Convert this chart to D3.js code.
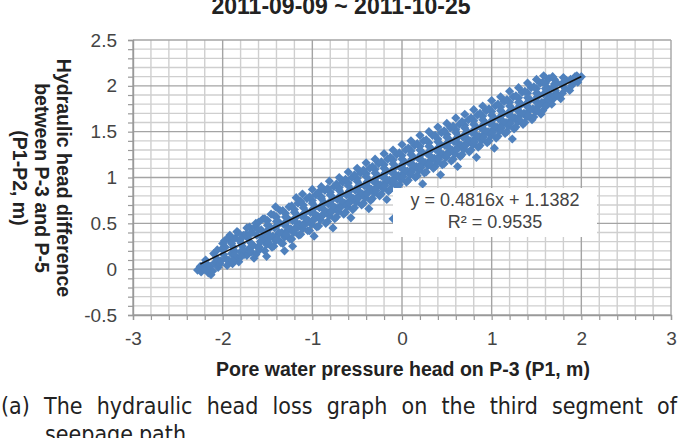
<!DOCTYPE html>
<html>
<head>
<meta charset="utf-8">
<script src="https://cdn.jsdelivr.net/npm/d3@7"></script>
<style>
  body { margin: 0; background: #fff; }
  svg { display: block; }
  .tick text { font-family: "Liberation Sans", Arial, sans-serif; font-size: 19px; fill: #444; }
  .bold { font-family: "Liberation Sans", Arial, sans-serif; font-weight: bold; fill: #222; }
</style>
</head>
<body>
<div class="chart"></div>
<script>
const title = "2011-09-09 ~ 2011-10-25";
const xLabel = "Pore water pressure head on P-3 (P1, m)";
const yLabelLines = ["Hydraulic head difference", "between P-3 and P-5", "(P1-P2, m)"];
const xMajor = [-3, -2, -1, 0, 1, 2, 3];
const yMajor = [-0.5, 0, 0.5, 1, 1.5, 2, 2.5];
const trendSlope = 0.4816, trendIntercept = 1.1382;
const trendRange = [-2.25, 2.0];
const eqLines = ["y = 0.4816x + 1.1382", "R\u00b2 = 0.9535"];
const captionLine1 = "(a) The hydraulic head loss graph on the third segment of";
const captionLine2 = "seepage path";

const points = [
[-2.28,-0.01],[-2.25,0.03],[-2.24,-0.03],[-2.21,0.05],
[-2.2,0.0],[-2.18,0.06],[-2.16,-0.04],[-2.19,0.1],[-2.14,0.03],[-2.13,-0.06],
[-2.11,-0.02],[-2.09,0.07],[-2.07,0.12],[-2.1,0.17],[-2.05,0.02],[-2.06,0.21],[-2.03,0.06],
[-2.02,0.09],[-1.99,0.16],[-1.97,0.24],[-2.0,0.28],[-1.96,0.11],[-2.01,0.22],[-1.98,0.31],[-1.95,0.04],
[-1.93,0.1],[-1.9,0.17],[-1.88,0.24],[-1.91,0.3],[-1.86,0.34],[-1.89,0.06],[-1.87,0.2],[-1.92,0.37],[-1.85,0.13],
[-1.83,0.12],[-1.8,0.19],[-1.78,0.25],[-1.81,0.31],[-1.77,0.37],[-1.84,0.41],[-1.79,0.28],[-1.76,0.16],[-1.82,0.08],
[-1.73,0.15],[-1.71,0.22],[-1.69,0.29],[-1.72,0.34],[-1.67,0.4],[-1.7,0.46],[-1.66,0.26],[-1.74,0.38],[-1.68,0.19],[-1.65,0.12],
[-1.63,0.16],[-1.61,0.24],[-1.58,0.3],[-1.62,0.37],[-1.57,0.43],[-1.6,0.51],[-1.56,0.35],[-1.64,0.46],[-1.59,0.21],[-1.55,0.55],
[-1.53,0.2],[-1.51,0.27],[-1.48,0.34],[-1.52,0.4],[-1.47,0.46],[-1.5,0.53],[-1.46,0.6],[-1.54,0.31],[-1.49,0.43],[-1.45,0.24],[-1.51,0.14],
[-1.43,0.25],[-1.41,0.31],[-1.38,0.38],[-1.42,0.45],[-1.37,0.51],[-1.4,0.57],[-1.36,0.64],[-1.44,0.36],[-1.39,0.48],[-1.35,0.29],[-1.41,0.68],
[-1.33,0.28],[-1.31,0.35],[-1.28,0.42],[-1.32,0.49],[-1.27,0.55],[-1.3,0.61],[-1.26,0.68],[-1.34,0.4],[-1.29,0.52],[-1.25,0.33],[-1.31,0.2],
[-1.23,0.33],[-1.21,0.4],[-1.18,0.46],[-1.22,0.53],[-1.17,0.59],[-1.2,0.65],[-1.16,0.72],[-1.24,0.44],[-1.19,0.56],[-1.15,0.37],[-1.22,0.25],[-1.18,0.78],
[-1.13,0.38],[-1.11,0.44],[-1.08,0.51],[-1.12,0.58],[-1.07,0.63],[-1.1,0.7],[-1.06,0.77],[-1.14,0.49],[-1.09,0.61],[-1.05,0.42],[-1.11,0.82],
[-1.03,0.42],[-1.01,0.49],[-0.98,0.55],[-1.02,0.62],[-0.97,0.68],[-1.0,0.75],[-0.96,0.81],[-1.04,0.53],[-0.99,0.66],[-0.95,0.46],[-1.0,0.87],[-0.98,0.36],
[-0.93,0.47],[-0.91,0.54],[-0.88,0.6],[-0.92,0.67],[-0.87,0.73],[-0.9,0.79],[-0.86,0.86],[-0.94,0.58],[-0.89,0.7],[-0.85,0.5],[-0.9,0.9],
[-0.83,0.52],[-0.81,0.58],[-0.78,0.65],[-0.82,0.71],[-0.77,0.78],[-0.8,0.84],[-0.76,0.9],[-0.84,0.62],[-0.79,0.75],[-0.75,0.55],[-0.81,0.96],[-0.77,0.45],
[-0.73,0.57],[-0.71,0.63],[-0.68,0.7],[-0.72,0.76],[-0.67,0.82],[-0.7,0.89],[-0.66,0.95],[-0.74,0.67],[-0.69,0.8],[-0.65,0.6],[-0.7,1.0],
[-0.63,0.62],[-0.61,0.68],[-0.58,0.75],[-0.62,0.81],[-0.57,0.87],[-0.6,0.94],[-0.56,1.0],[-0.64,0.72],[-0.59,0.85],[-0.55,0.65],[-0.6,1.06],[-0.57,0.56],
[-0.53,0.67],[-0.51,0.73],[-0.48,0.8],[-0.52,0.86],[-0.47,0.92],[-0.5,0.99],[-0.46,1.05],[-0.54,0.77],[-0.49,0.9],[-0.45,0.7],[-0.5,1.1],
[-0.43,0.72],[-0.41,0.78],[-0.38,0.85],[-0.42,0.91],[-0.37,0.97],[-0.4,1.04],[-0.36,1.1],[-0.44,0.82],[-0.39,0.95],[-0.35,0.75],[-0.4,1.16],[-0.37,0.66],
[-0.33,0.77],[-0.31,0.83],[-0.28,0.9],[-0.32,0.96],[-0.27,1.02],[-0.3,1.09],[-0.26,1.15],[-0.34,0.87],[-0.29,1.0],[-0.25,0.8],[-0.3,1.2],
[-0.23,0.82],[-0.21,0.88],[-0.18,0.95],[-0.22,1.01],[-0.17,1.07],[-0.2,1.14],[-0.16,1.2],[-0.24,0.92],[-0.19,1.05],[-0.15,0.85],[-0.2,1.26],[-0.17,0.76],
[-0.13,0.87],[-0.11,0.93],[-0.08,1.0],[-0.12,1.06],[-0.07,1.12],[-0.1,1.19],[-0.06,1.25],[-0.14,0.97],[-0.09,1.1],[-0.05,0.9],[-0.1,1.3],[-0.1,0.55],
[-0.03,0.92],[-0.01,0.98],[0.02,1.05],[-0.02,1.11],[0.03,1.17],[0.0,1.24],[0.04,1.3],[-0.04,1.02],[0.01,1.15],[0.05,0.95],[0.0,1.36],[0.03,0.84],
[0.07,0.97],[0.09,1.03],[0.12,1.1],[0.08,1.16],[0.13,1.22],[0.1,1.29],[0.14,1.35],[0.06,1.07],[0.11,1.2],[0.15,1.0],[0.1,1.4],
[0.17,1.02],[0.19,1.08],[0.22,1.15],[0.18,1.21],[0.23,1.27],[0.2,1.34],[0.24,1.4],[0.16,1.12],[0.21,1.25],[0.25,1.05],[0.2,1.46],[0.23,0.93],
[0.27,1.06],[0.29,1.13],[0.32,1.19],[0.28,1.26],[0.33,1.31],[0.3,1.38],[0.34,1.46],[0.26,1.16],[0.31,1.29],[0.35,1.1],[0.3,1.5],
[0.37,1.12],[0.39,1.17],[0.42,1.24],[0.38,1.3],[0.43,1.36],[0.4,1.42],[0.44,1.49],[0.36,1.21],[0.41,1.33],[0.45,1.14],[0.4,1.55],[0.43,1.03],
[0.47,1.15],[0.49,1.22],[0.52,1.28],[0.48,1.35],[0.53,1.41],[0.5,1.47],[0.54,1.54],[0.46,1.25],[0.51,1.38],[0.55,1.18],[0.5,1.59],
[0.57,1.2],[0.59,1.26],[0.62,1.33],[0.58,1.39],[0.63,1.45],[0.6,1.52],[0.64,1.58],[0.56,1.3],[0.61,1.43],[0.65,1.23],[0.6,1.65],[0.62,1.12],
[0.67,1.25],[0.69,1.31],[0.72,1.38],[0.68,1.44],[0.73,1.5],[0.7,1.57],[0.74,1.63],[0.66,1.35],[0.71,1.48],[0.75,1.28],[0.7,1.69],
[0.77,1.3],[0.79,1.36],[0.82,1.43],[0.78,1.49],[0.83,1.55],[0.8,1.62],[0.84,1.68],[0.76,1.4],[0.81,1.53],[0.85,1.33],[0.8,1.74],[0.83,1.22],
[0.87,1.35],[0.89,1.41],[0.92,1.48],[0.88,1.54],[0.93,1.6],[0.9,1.67],[0.94,1.73],[0.86,1.45],[0.91,1.58],[0.95,1.38],[0.9,1.78],
[0.97,1.4],[0.99,1.46],[1.02,1.53],[0.98,1.59],[1.03,1.65],[1.0,1.72],[1.04,1.78],[0.96,1.5],[1.01,1.63],[1.05,1.43],[1.0,1.84],[1.03,1.32],
[1.07,1.45],[1.09,1.51],[1.12,1.58],[1.08,1.64],[1.13,1.7],[1.1,1.77],[1.14,1.83],[1.06,1.55],[1.11,1.68],[1.15,1.48],[1.1,1.88],
[1.17,1.5],[1.19,1.56],[1.22,1.63],[1.18,1.69],[1.23,1.75],[1.2,1.82],[1.24,1.88],[1.16,1.6],[1.21,1.73],[1.25,1.53],[1.2,1.94],[1.23,1.42],
[1.27,1.55],[1.29,1.61],[1.32,1.68],[1.28,1.74],[1.33,1.8],[1.3,1.87],[1.34,1.93],[1.26,1.65],[1.31,1.78],[1.35,1.58],[1.3,1.98],
[1.37,1.6],[1.39,1.66],[1.42,1.73],[1.38,1.79],[1.43,1.85],[1.4,1.92],[1.44,1.98],[1.36,1.7],[1.41,1.83],[1.45,1.63],[1.4,2.03],
[1.47,1.66],[1.49,1.72],[1.52,1.78],[1.48,1.84],[1.53,1.9],[1.5,1.97],[1.54,2.03],[1.46,1.75],[1.51,1.88],[1.55,1.69],[1.5,2.07],
[1.57,1.73],[1.59,1.79],[1.62,1.85],[1.58,1.91],[1.63,1.97],[1.6,2.03],[1.64,2.08],[1.56,1.82],[1.61,1.94],[1.58,2.11],
[1.67,1.8],[1.69,1.86],[1.72,1.92],[1.68,1.98],[1.73,2.03],[1.7,2.07],[1.66,1.89],[1.71,1.95],[1.68,2.1],
[1.77,1.86],[1.79,1.92],[1.82,1.97],[1.78,2.02],[1.83,2.06],[1.8,2.09],
[1.87,1.95],[1.89,2.0],[1.92,2.04],[1.88,2.07],[1.93,2.1],
[1.96,2.04],[1.98,2.08],[2.0,2.1],[1.95,2.11]
];

// denser core of the cloud
const corePoints = [
[-1.9,0.28],[-1.93,0.35],[-1.87,0.16],[-1.89,0.09],
[-1.8,0.33],[-1.83,0.4],[-1.77,0.21],[-1.79,0.14],
[-1.7,0.38],[-1.73,0.45],[-1.67,0.26],[-1.69,0.19],
[-1.6,0.43],[-1.63,0.5],[-1.57,0.31],[-1.59,0.24],
[-1.5,0.48],[-1.53,0.55],[-1.47,0.36],[-1.49,0.29],
[-1.4,0.52],[-1.43,0.59],[-1.37,0.4],[-1.39,0.33],
[-1.3,0.57],[-1.33,0.64],[-1.27,0.45],[-1.29,0.38],
[-1.2,0.62],[-1.23,0.69],[-1.17,0.5],[-1.19,0.43],
[-1.1,0.67],[-1.13,0.74],[-1.07,0.55],[-1.09,0.48],
[-1.0,0.72],[-1.03,0.79],[-0.97,0.6],[-0.99,0.53],
[-0.9,0.77],[-0.93,0.84],[-0.87,0.65],[-0.89,0.58],
[-0.8,0.81],[-0.83,0.88],[-0.77,0.69],[-0.79,0.62],
[-0.7,0.86],[-0.73,0.93],[-0.67,0.74],[-0.69,0.67],
[-0.6,0.91],[-0.63,0.98],[-0.57,0.79],[-0.59,0.72],
[-0.5,0.96],[-0.53,1.03],[-0.47,0.84],[-0.49,0.77],
[-0.4,1.01],[-0.43,1.08],[-0.37,0.89],[-0.39,0.82],
[-0.3,1.05],[-0.33,1.12],[-0.27,0.93],[-0.29,0.86],
[-0.2,1.1],[-0.23,1.17],[-0.17,0.98],[-0.19,0.91],
[-0.1,1.15],[-0.13,1.22],[-0.07,1.03],[-0.09,0.96],
[0.0,1.2],[-0.03,1.27],[0.03,1.08],[0.01,1.01],
[0.1,1.25],[0.07,1.32],[0.13,1.13],[0.11,1.06],
[0.2,1.3],[0.17,1.37],[0.23,1.18],[0.21,1.11],
[0.3,1.34],[0.27,1.41],[0.33,1.22],[0.31,1.15],
[0.4,1.39],[0.37,1.46],[0.43,1.27],[0.41,1.2],
[0.5,1.44],[0.47,1.51],[0.53,1.32],[0.51,1.25],
[0.6,1.49],[0.57,1.56],[0.63,1.37],[0.61,1.3],
[0.7,1.54],[0.67,1.61],[0.73,1.42],[0.71,1.35],
[0.8,1.58],[0.77,1.65],[0.83,1.46],[0.81,1.39],
[0.9,1.63],[0.87,1.7],[0.93,1.51],[0.91,1.44],
[1.0,1.68],[0.97,1.75],[1.03,1.56],[1.01,1.49],
[1.1,1.73],[1.07,1.8],[1.13,1.61],[1.11,1.54],
[1.2,1.78],[1.17,1.85],[1.23,1.66],[1.21,1.59],
[1.3,1.82],[1.27,1.89],[1.33,1.7],[1.31,1.63],
[1.4,1.87],[1.37,1.94],[1.43,1.75],[1.41,1.68],
[1.5,1.92],[1.47,1.99],[1.53,1.8],[1.51,1.73],
[1.6,1.97],[1.57,2.04],[1.63,1.85],[1.61,1.78],
[1.7,2.02],[1.73,1.9]
];

const W = 683, H = 438;
const plot = {left: 133, right: 671, top: 40, bottom: 315};

const svg = d3.select(".chart").append("svg")
    .attr("width", W)
    .attr("height", H);

const x = d3.scaleLinear().domain([-3, 3]).range([plot.left, plot.right]);
const y = d3.scaleLinear().domain([-0.5, 2.5]).range([plot.bottom, plot.top]);

const xMinor = d3.range(-3, 3.001, 0.2).map(v => +v.toFixed(2));
const yMinor = d3.range(-0.5, 2.501, 0.1).map(v => +v.toFixed(2));
const isMajorX = v => xMajor.some(m => Math.abs(m - v) < 1e-6);
const isMajorY = v => yMajor.some(m => Math.abs(m - v) < 1e-6);

// grid: minor then major
const grid = svg.append("g");
grid.selectAll(".vminor").data(xMinor.filter(v => !isMajorX(v))).enter().append("line")
    .attr("x1", d => x(d)).attr("x2", d => x(d))
    .attr("y1", plot.top).attr("y2", plot.bottom)
    .attr("stroke", "#cfcfcf").attr("stroke-width", 1.4);
grid.selectAll(".hminor").data(yMinor.filter(v => !isMajorY(v))).enter().append("line")
    .attr("x1", plot.left).attr("x2", plot.right)
    .attr("y1", d => y(d)).attr("y2", d => y(d))
    .attr("stroke", "#cfcfcf").attr("stroke-width", 1.4);
grid.selectAll(".vmajor").data(xMajor).enter().append("line")
    .attr("x1", d => x(d)).attr("x2", d => x(d))
    .attr("y1", plot.top).attr("y2", plot.bottom)
    .attr("stroke", "#a4a4a4").attr("stroke-width", 1.4);
grid.selectAll(".hmajor").data(yMajor).enter().append("line")
    .attr("x1", plot.left).attr("x2", plot.right)
    .attr("y1", d => y(d)).attr("y2", d => y(d))
    .attr("stroke", "#a4a4a4").attr("stroke-width", 1.4);

// axes with minor tick marks
const xAxis = d3.axisBottom(x).tickValues(xMinor).tickSize(5).tickPadding(12)
    .tickFormat(d => isMajorX(d) ? d : "");
const yAxis = d3.axisLeft(y).tickValues(yMinor).tickSize(5).tickPadding(11)
    .tickFormat(d => isMajorY(d) ? d : "");

svg.append("g").attr("transform", `translate(0,${plot.bottom})`).call(xAxis)
    .call(g => g.select(".domain").attr("stroke", "#999").attr("stroke-width", 1.4))
    .call(g => g.selectAll(".tick line").attr("stroke", "#999").attr("stroke-width", 1.2));
svg.append("g").attr("transform", `translate(${plot.left},0)`).call(yAxis)
    .call(g => g.select(".domain").attr("stroke", "#999").attr("stroke-width", 1.4))
    .call(g => g.selectAll(".tick line").attr("stroke", "#999").attr("stroke-width", 1.2));

// points
const diamond = d3.symbol(d3.symbolSquare, 42);
svg.append("g").selectAll("path").data(points.concat(corePoints)).enter().append("path")
    .attr("d", diamond)
    .attr("transform", d => `translate(${x(d[0])},${y(d[1])}) rotate(45)`)
    .attr("fill", "#4F81BD");

// trendline
svg.append("line")
    .attr("x1", x(trendRange[0])).attr("y1", y(trendSlope * trendRange[0] + trendIntercept))
    .attr("x2", x(trendRange[1])).attr("y2", y(trendSlope * trendRange[1] + trendIntercept))
    .attr("stroke", "#111").attr("stroke-width", 1.5);

// equation label
svg.append("rect").attr("x", 393).attr("y", 188).attr("width", 204).attr("height", 49).attr("fill", "#fff");
svg.selectAll(".eq").data(eqLines).enter().append("text")
    .attr("x", 495).attr("y", (d, i) => 206 + i * 22)
    .attr("text-anchor", "middle")
    .attr("font-family", "Liberation Sans, Arial, sans-serif")
    .attr("font-size", 18).attr("fill", "#444")
    .text(d => d);

// title
svg.append("text").attr("class", "bold")
    .attr("x", 341).attr("y", 14).attr("text-anchor", "middle")
    .attr("font-size", 23).text(title);

// axis labels
svg.append("text").attr("class", "bold")
    .attr("x", 403).attr("y", 376).attr("text-anchor", "middle")
    .attr("font-size", 19.5).text(xLabel);

svg.selectAll(".ylab").data(yLabelLines).enter().append("text")
    .attr("class", "bold")
    .attr("transform", (d, i) => `translate(${57 - i * 22},178) rotate(90)`)
    .attr("text-anchor", "middle")
    .attr("font-size", 19.5).text(d => d);

// caption, justified
function justify(words, x0, x1, baseline, justifyIt) {
    const g = svg.append("g");
    const t = g.selectAll("text").data(words).enter().append("text")
        .attr("y", baseline)
        .attr("font-family", "Liberation Sans Narrow, DejaVu Sans Condensed, Arial Narrow, sans-serif")
        .attr("font-size", 23).attr("fill", "#222")
        .text(d => d);
    const widths = t.nodes().map(n => n.getComputedTextLength());
    const gap = justifyIt ? (x1 - x0 - d3.sum(widths)) / (words.length - 1) : 6;
    let cx = x0;
    t.attr("x", (d, i) => { const v = cx; cx += widths[i] + gap; return v; });
}
justify(captionLine1.split(" "), 1, 677, 414, true);
justify(captionLine2.split(" "), 45, 677, 442, false);
</script>
</body>
</html>
